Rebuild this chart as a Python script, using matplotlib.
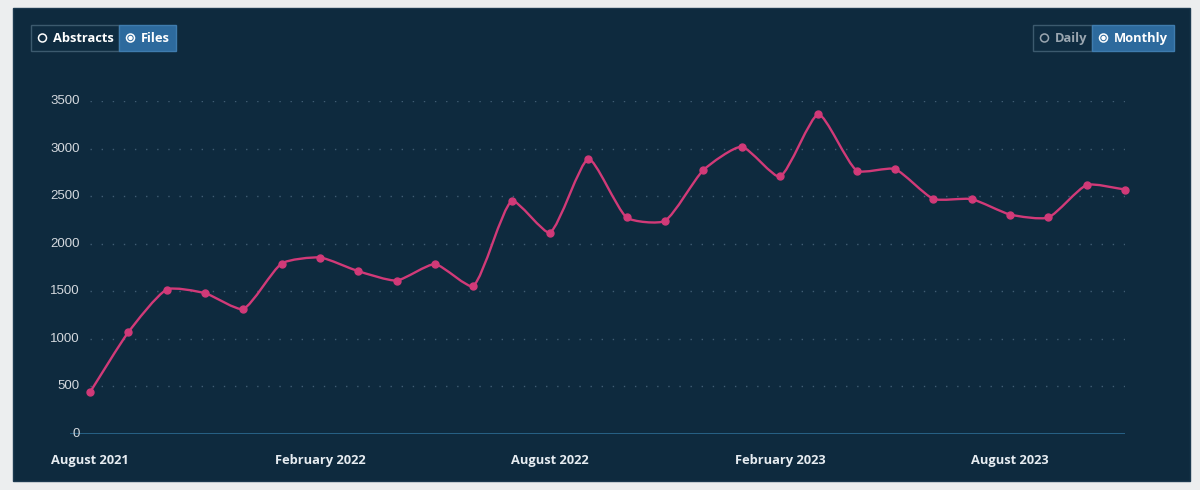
import numpy as np
import matplotlib
matplotlib.use('Agg')
import matplotlib.pyplot as plt
from matplotlib.path import Path
from matplotlib.patches import PathPatch, Rectangle, Circle

# monthly file counts, Aug 2021 .. Nov 2023
months = ['Aug 2021', 'Sep 2021', 'Oct 2021', 'Nov 2021', 'Dec 2021',
          'Jan 2022', 'Feb 2022', 'Mar 2022', 'Apr 2022', 'May 2022',
          'Jun 2022', 'Jul 2022', 'Aug 2022', 'Sep 2022', 'Oct 2022',
          'Nov 2022', 'Dec 2022', 'Jan 2023', 'Feb 2023', 'Mar 2023',
          'Apr 2023', 'May 2023', 'Jun 2023', 'Jul 2023', 'Aug 2023',
          'Sep 2023', 'Oct 2023', 'Nov 2023']
files = [437, 1068, 1517, 1479, 1314, 1791, 1854, 1710, 1612, 1784,
         1556, 2447, 2117, 2889, 2275, 2240, 2773, 3019, 2706, 3359,
         2769, 2784, 2471, 2468, 2306, 2275, 2616, 2569]

xtick_idx = [0, 6, 12, 18, 24]
xtick_labels = ['August 2021', 'February 2022', 'August 2022',
                'February 2023', 'August 2023']
yticks = [0, 500, 1000, 1500, 2000, 2500, 3000, 3500]

BG = '#eceeef'
PANEL = '#0e2a3e'
LINE = '#d13a78'
BLUE = '#2d6a9d'

W, H = 1200, 490
fig = plt.figure(figsize=(W / 100, H / 100), dpi=100)
fig.patch.set_facecolor(BG)

# background axes in pixel coordinates for the panel and buttons
bg = fig.add_axes([0, 0, 1, 1])
bg.set_xlim(0, W)
bg.set_ylim(H, 0)
bg.axis('off')
bg.add_patch(Rectangle((13, 8), 1177, 473, facecolor=PANEL,
                       edgecolor='#1c3a50', lw=1))


def button_group(x0, x1, xdiv, labels, active, text_cols):
    y0, h = 25, 26
    bg.add_patch(Rectangle((x0, y0), xdiv - x0, h, facecolor='#0f2c41',
                           edgecolor='#3c5a6e', lw=1))
    bg.add_patch(Rectangle((xdiv, y0), x1 - xdiv, h, facecolor=BLUE,
                           edgecolor='#3f7cae', lw=1))
    parts = [(x0, xdiv), (xdiv, x1)]
    for k, (lab, (a, b)) in enumerate(zip(labels, parts)):
        cx = a + 11.5
        col = text_cols[k]
        bg.add_patch(Circle((cx, 38), 4, facecolor='none', edgecolor=col,
                            lw=1.1))
        if k == active:
            bg.add_patch(Circle((cx, 38), 2.2, facecolor=col, edgecolor='none'))
        bg.text(cx + 10.5, 38.5, lab, fontsize=9.3, fontweight='bold',
                family='Open Sans', color=col, ha='left', va='center')


button_group(31, 176, 119, ['Abstracts', 'Files'], 1, ['#ffffff', '#ffffff'])
button_group(1033, 1174, 1092, ['Daily', 'Monthly'], 1, ['#9aa6b0', '#ffffff'])

# chart axes: index 0 at px 90, index 27 at px 1125; 0 at px 433.8, 3500 at px 101
step = (1125 - 90) / 27.0
left_px = 70
ax = fig.add_axes([left_px / W, (H - 433.8) / H, (1125 - left_px) / W,
                   (433.8 - 101) / H])
ax.set_facecolor('none')
ax.set_xlim(-(90 - left_px) / step, 27)
ax.set_ylim(0, 3500)
for s in ax.spines.values():
    s.set_visible(False)
ax.set_xticks([])
ax.set_yticks([])

for v in yticks[1:]:
    ax.hlines(v, 0, 27, colors='#405d73', lw=1, linestyles=(0, (1, 7)))
    ax.text(-(90 - 80) / step, v, str(v), ha='right', va='center',
            fontsize=9.5, family='Liberation Sans', color='#d4d9de')
ax.text(-(90 - 80) / step, 0, '0', ha='right', va='center',
        fontsize=9.5, family='Liberation Sans', color='#d4d9de')
ax.axhline(0, color='#2b6a92', lw=1.2)

for i, lab in zip(xtick_idx, xtick_labels):
    ax.text(i, -285, lab, ha='center', va='center', fontsize=9.3,
            fontweight='bold', family='Open Sans', color='#e6ecf1', clip_on=False)

# spline through the points, control points computed in pixel space
x = np.arange(len(files), dtype=float)
y = np.array(files, dtype=float)
sy = (433.8 - 101) / 3500.0
px = x * step
py = y * sy
t = 0.2
n = len(x)
cprev = np.zeros((n, 2))
cnext = np.zeros((n, 2))
for i in range(n):
    a = max(i - 1, 0)
    b = min(i + 1, n - 1)
    d01 = np.hypot(px[i] - px[a], py[i] - py[a])
    d12 = np.hypot(px[b] - px[i], py[b] - py[i])
    tot = d01 + d12
    s01 = d01 / tot if tot else 0
    s12 = d12 / tot if tot else 0
    fa, fb = t * s01, t * s12
    cprev[i] = [px[i] - fa * (px[b] - px[a]), py[i] - fa * (py[b] - py[a])]
    cnext[i] = [px[i] + fb * (px[b] - px[a]), py[i] + fb * (py[b] - py[a])]

verts = [(px[0], py[0])]
codes = [Path.MOVETO]
for i in range(n - 1):
    verts += [tuple(cnext[i]), tuple(cprev[i + 1]), (px[i + 1], py[i + 1])]
    codes += [Path.CURVE4] * 3
verts = np.array(verts)
verts[:, 0] /= step
verts[:, 1] /= sy
ax.add_patch(PathPatch(Path(verts, codes), facecolor='none', edgecolor=LINE,
                       lw=1.7, clip_on=False, zorder=3))
ax.plot(x, y, 'o', color=LINE, ms=5, zorder=4, clip_on=False)

fig.savefig('out.png', dpi=100, facecolor=BG)
